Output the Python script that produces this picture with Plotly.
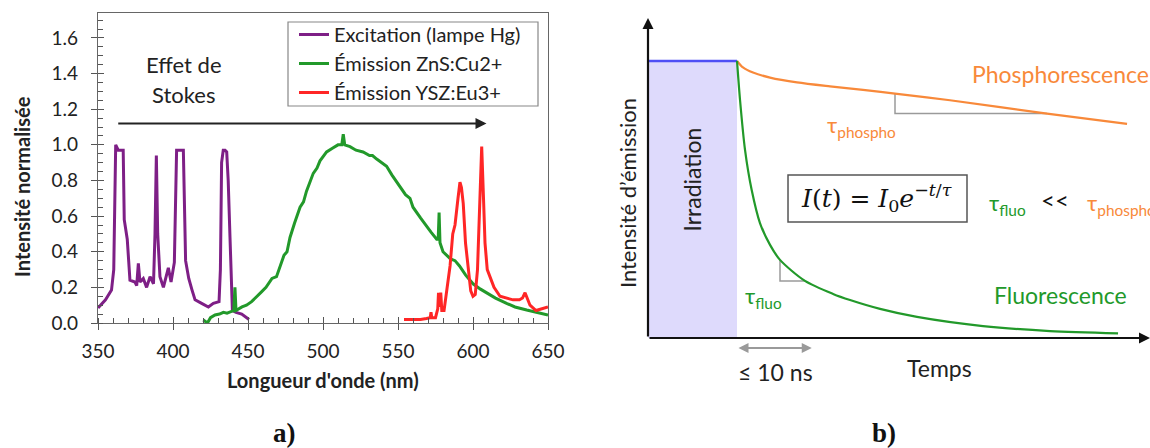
import plotly.graph_objects as go

# ---------------- Panel a) data ----------------
exc_wl = [350, 355, 359, 360.5, 361.8, 362.6, 363.5, 366.8, 367.5, 369.5, 371.3, 374.6, 375.8, 376.9, 378,
          380.2, 382.4, 384.7, 387, 388, 388.9, 389.8, 391.3, 393.6, 396.9, 398.7, 400.9, 402.4, 406.9,
          408.4, 410.5, 412.7, 414.7, 419.1, 423.6, 426.9, 430.7, 431.6, 432.4, 433.5, 434.7, 435.8, 436.8,
          438, 439.6, 442, 445.8, 450.7]
exc_int = [0.085, 0.13, 0.185, 0.3, 1.0, 0.98, 0.97, 0.97, 0.58, 0.47, 0.24, 0.23, 0.21, 0.335, 0.23,
           0.25, 0.2, 0.26, 0.22, 0.5, 0.94, 0.5, 0.26, 0.2, 0.31, 0.23, 0.34, 0.97, 0.97,
           0.35, 0.25, 0.185, 0.13, 0.11, 0.09, 0.11, 0.12, 0.3, 0.9, 0.97, 0.97, 0.96, 0.8,
           0.48, 0.07, 0.06, 0.05, 0.02]

zns_wl = [420.2, 423, 425, 428, 431, 433.6, 436, 439, 440.5, 441.3, 442, 446, 449, 452.4, 455, 459, 462,
          466, 469, 471, 474, 476, 478, 481, 484.7, 487, 489, 493.5, 496, 498, 502.4, 506, 510, 512.5, 513.5,
          514.5, 518, 522, 526.7, 531, 533, 535.8, 539, 542.4, 546, 551, 555, 558, 560, 565, 569, 572, 575.8,
          576.8, 577.4, 578, 580, 585, 588, 591, 595, 600, 605, 609, 615, 622.4, 628, 635.8, 642, 650]
zns_int = [0.017, 0.0, 0.03, 0.045, 0.05, 0.06, 0.055, 0.065, 0.07, 0.2, 0.07, 0.09, 0.1, 0.12, 0.14,
           0.175, 0.2, 0.25, 0.26, 0.31, 0.38, 0.4, 0.48, 0.56, 0.65, 0.68, 0.74, 0.84, 0.87, 0.91, 0.96,
           0.98, 1.0, 1.0, 1.06, 1.0, 0.99, 0.97, 0.96, 0.94, 0.94, 0.92, 0.9, 0.88, 0.83, 0.77, 0.72, 0.7,
           0.65, 0.59, 0.54, 0.51, 0.47, 0.47, 0.62, 0.45, 0.40, 0.36, 0.35, 0.32, 0.27, 0.22, 0.19, 0.17,
           0.14, 0.11, 0.09, 0.073, 0.06, 0.045]

ysz_wl = [554, 560, 565, 569, 571.5, 572, 572.5, 575, 576.5, 577, 577.8, 578.5, 579.2, 580.7, 582.5, 584.7,
          586.5, 588, 590, 591.3, 592.3, 593.5, 595, 596.7, 598.5, 600, 601.5, 603, 604.5, 605.8, 607, 608,
          609.5, 611, 614, 618, 622, 626.7, 631, 633, 634.7, 636, 638, 642, 646, 650]
ysz_int = [0.02, 0.02, 0.02, 0.025, 0.03, 0.06, 0.03, 0.03, 0.08, 0.17, 0.09, 0.17, 0.07, 0.07, 0.18, 0.32,
           0.5, 0.55, 0.7, 0.79, 0.76, 0.67, 0.45, 0.32, 0.18, 0.15, 0.16, 0.3, 0.7, 0.99, 0.7, 0.45,
           0.3, 0.27, 0.2, 0.15, 0.14, 0.13, 0.13, 0.14, 0.17, 0.14, 0.1, 0.07, 0.08, 0.09]

x_ticks = [350, 400, 450, 500, 550, 600, 650]
y_ticks = [0.0, 0.2, 0.4, 0.6, 0.8, 1.0, 1.2, 1.4, 1.6]
y_tick_labels = ["0.0", "0.2", "0.4", "0.6", "0.8", "1.0", "1.2", "1.4", "1.6"]

# ---------------- Panel b) schematic data ----------------
irr_t = [0, 1]
irr_i = [1, 1]
phos_t = [1.0, 1.067, 1.180, 1.371, 1.674, 2.045, 2.416, 2.775, 3.393, 4.483, 5.382]
phos_i = [1.0, 0.9765, 0.958, 0.940, 0.9224, 0.908, 0.8953, 0.882, 0.858, 0.8101, 0.7726]
fluo_t = [1.0, 1.034, 1.090, 1.165, 1.258, 1.371, 1.483, 1.764, 2.079, 2.270, 2.607, 3.022, 3.764, 4.517, 5.281]
fluo_i = [1.0, 0.859, 0.679, 0.534, 0.415, 0.336, 0.282, 0.206, 0.159, 0.137, 0.105, 0.076, 0.043, 0.025, 0.017]
tri_phos_t = [2.775, 2.775, 4.483]
tri_phos_i = [0.882, 0.81, 0.81]
tri_fluo_t = [1.483, 1.483, 1.764]
tri_fluo_i = [0.282, 0.206, 0.206]

PURPLE = "#7E1F86"
GREEN = "#22992A"
RED = "#FF2626"
ORANGE = "#F8893A"
SANS = "Lato"
SERIF = "DejaVu Serif"

fig = go.Figure()
fig.add_trace(go.Scatter(x=exc_wl, y=exc_int, mode="lines", name="Excitation (lampe Hg)",
                         line=dict(color=PURPLE, width=3)))
fig.add_trace(go.Scatter(x=zns_wl, y=zns_int, mode="lines", name="Émission ZnS:Cu2+",
                         line=dict(color=GREEN, width=3)))
fig.add_trace(go.Scatter(x=ysz_wl, y=ysz_int, mode="lines", name="Émission YSZ:Eu3+",
                         line=dict(color=RED, width=3)))
# dummy trace to show inside-tick overlay axes
fig.add_trace(go.Scatter(x=[None], y=[None], xaxis="x3", yaxis="y3", showlegend=False, hoverinfo="skip"))

# panel b traces
fig.add_trace(go.Scatter(x=irr_t, y=irr_i, xaxis="x2", yaxis="y2", mode="lines", fill="tozeroy",
                         fillcolor="#DEDAFC", line=dict(color="#4F4FF5", width=2.5), showlegend=False))
fig.add_trace(go.Scatter(x=tri_phos_t, y=tri_phos_i, xaxis="x2", yaxis="y2", mode="lines",
                         line=dict(color="#9A9A9A", width=1.5), showlegend=False))
fig.add_trace(go.Scatter(x=tri_fluo_t, y=tri_fluo_i, xaxis="x2", yaxis="y2", mode="lines",
                         line=dict(color="#9A9A9A", width=1.5), showlegend=False))
fig.add_trace(go.Scatter(x=phos_t, y=phos_i, xaxis="x2", yaxis="y2", mode="lines",
                         line=dict(color=ORANGE, width=2.2, shape="spline", smoothing=0.8), showlegend=False))
fig.add_trace(go.Scatter(x=fluo_t, y=fluo_i, xaxis="x2", yaxis="y2", mode="lines",
                         line=dict(color=GREEN, width=2.2, shape="spline", smoothing=0.8), showlegend=False))

dom_ax = [98 / 1150, 548 / 1150]
dom_ay = [1 - 323 / 448, 1 - 13 / 448]

tickfont = dict(family=SANS, size=19, color="#222")
common_ax = dict(automargin=False, showgrid=False, zeroline=False)
fig.update_layout(
    width=1150, height=448, margin=dict(l=0, r=0, t=0, b=0, autoexpand=False),
    paper_bgcolor="white", plot_bgcolor="white",
    font=dict(family=SANS, color="#222"),
    xaxis=dict(domain=dom_ax, range=[350, 650], tickvals=x_ticks, ticks="outside", ticklen=6,
               tickcolor="#555", tickwidth=1.3, showline=True, linecolor="#666", linewidth=1.3,
               mirror=True, tickfont=tickfont, ticklabelstandoff=5,
               minor=dict(dtick=10, ticks="inside", ticklen=5, tickcolor="#555", tickwidth=1.2),
               anchor="y", **common_ax),
    yaxis=dict(domain=dom_ay, range=[0, 1.74], tickvals=y_ticks, ticktext=y_tick_labels, ticks="outside",
               ticklen=6, tickcolor="#555", tickwidth=1.3, showline=True, linecolor="#666", linewidth=1.3,
               mirror=True, tickfont=tickfont, ticklabelstandoff=9,
               minor=dict(dtick=0.05, ticks="inside", ticklen=5, tickcolor="#555", tickwidth=1.2),
               anchor="x", **common_ax),
    xaxis3=dict(overlaying="x", range=[350, 650], tickvals=x_ticks, ticks="inside", ticklen=6,
                tickcolor="#555", tickwidth=1.3, showticklabels=False, showline=False, anchor="y3",
                **common_ax),
    yaxis3=dict(overlaying="y", range=[0, 1.74], tickvals=y_ticks, ticks="inside", ticklen=6,
                tickcolor="#555", tickwidth=1.3, showticklabels=False, showline=False, anchor="x3",
                **common_ax),
    xaxis2=dict(domain=[600 / 1150, 1.0], range=[-0.5393, 5.64], visible=False, anchor="y2", **common_ax),
    yaxis2=dict(domain=[1 - 400 / 448, 1 - 18 / 448], range=[-0.2238, 1.155], visible=False, anchor="x2",
                **common_ax),
    legend=dict(x=294 / 1150, y=1 - 15 / 448, xanchor="left", yanchor="top", bgcolor="rgba(0,0,0,0)",
                borderwidth=0, font=dict(family=SANS, size=20, color="#222"),
                itemwidth=30, tracegroupgap=0),
)

ann = []
# panel a texts
ann.append(dict(text="<b>Intensité normalisée</b>", xref="paper", yref="paper", x=22 / 1150, y=1 - 187 / 448,
                xanchor="center", yanchor="middle",
                textangle=-90, showarrow=False, font=dict(family=SANS, size=20, color="#222")))
ann.append(dict(text="<b>Longueur d'onde (nm)</b>", xref="paper", yref="paper", x=323 / 1150, y=1 - 380 / 448,
                xanchor="center", yanchor="middle",
                showarrow=False, font=dict(family=SANS, size=20, color="#222")))
ann.append(dict(text="Effet de", xref="x", yref="y", x=407, y=1.45, showarrow=False,
                font=dict(family=SANS, size=22, color="#222")))
ann.append(dict(text="Stokes", xref="x", yref="y", x=407, y=1.28, showarrow=False,
                font=dict(family=SANS, size=22, color="#222")))
ann.append(dict(text="", xref="x", yref="y", axref="x", ayref="y", x=609, y=1.12, ax=362.5, ay=1.12,
                showarrow=True, arrowhead=2, arrowsize=1.1, arrowwidth=2, arrowcolor="#222"))
ann.append(dict(text="<b>a)</b>", xref="paper", yref="paper", x=284 / 1150, y=1 - 433 / 448,
                xanchor="center", yanchor="middle", showarrow=False,
                font=dict(family="Liberation Serif", size=27, color="#111")))
ann.append(dict(text="<b>b)</b>", xref="paper", yref="paper", x=884 / 1150, y=1 - 433 / 448,
                xanchor="center", yanchor="middle", showarrow=False,
                font=dict(family="Liberation Serif", size=27, color="#111")))

# panel b texts and arrows
b = dict(xref="x2", yref="y2")
ann.append(dict(**b, text="", axref="x2", ayref="y2", x=5.64, y=0, ax=0, ay=0, showarrow=True,
                arrowhead=2, arrowsize=1, arrowwidth=2.2, arrowcolor="#111"))
ann.append(dict(**b, text="", axref="x2", ayref="y2", x=0, y=1.155, ax=0, ay=0, showarrow=True,
                arrowhead=2, arrowsize=1, arrowwidth=2.2, arrowcolor="#111"))
ann.append(dict(**b, text="", axref="x2", ayref="y2", x=1.84, y=-0.036, ax=1.0, ay=-0.036, showarrow=True,
                arrowhead=2, arrowside="end+start", arrowsize=1, arrowwidth=2, arrowcolor="#9A9A9A"))
ann.append(dict(**b, text="≤ 10 ns", x=1.43, y=-0.123, showarrow=False,
                font=dict(family=SANS, size=23, color="#222")))
ann.append(dict(**b, text="Temps", x=3.28, y=-0.108, showarrow=False,
                font=dict(family=SANS, size=23, color="#222")))
ann.append(dict(**b, text="Intensité d’émission", x=-0.236, y=0.523, textangle=-90, showarrow=False,
                font=dict(family=SANS, size=22, color="#222")))
ann.append(dict(**b, text="Irradiation", x=0.5, y=0.57, textangle=-90, showarrow=False,
                font=dict(family=SANS, size=23, color="#222")))
ann.append(dict(**b, text="Phosphorescence", x=4.63, y=0.953, showarrow=False,
                font=dict(family=SANS, size=23, color=ORANGE)))
ann.append(dict(**b, text="Fluorescence", x=4.64, y=0.155, showarrow=False,
                font=dict(family=SANS, size=23, color=GREEN)))
ann.append(dict(**b, text="τ<sub>phospho</sub>", x=2.40, y=0.765, showarrow=False,
                font=dict(family=SANS, size=22, color=ORANGE)))
ann.append(dict(**b, text="τ<sub>fluo</sub>", x=1.30, y=0.148, showarrow=False,
                font=dict(family=SANS, size=22, color=GREEN)))
ann.append(dict(**b, text="τ<sub>fluo</sub>", x=4.04, y=0.485, showarrow=False,
                font=dict(family=SANS, size=22, color=GREEN)))
ann.append(dict(**b, text="<<", x=4.57, y=0.50, showarrow=False,
                font=dict(family=SANS, size=24, color="#111")))
ann.append(dict(**b, text="τ<sub>phospho</sub>", x=4.91, y=0.485, xanchor="left", showarrow=False,
                font=dict(family=SANS, size=22, color=ORANGE)))
ann.append(dict(**b, text="<i>I</i>(<i>t</i>) = <i>I</i><sub>0</sub><i>e</i><sup>−<i>t</i>/<i>τ</i></sup>",
                x=2.57, y=0.505, showarrow=False, font=dict(family=SERIF, size=25, color="#111")))

fig.update_layout(annotations=ann)
fig.add_shape(type="rect", xref="x2", yref="y2", x0=1.573, x1=3.584, y0=0.419, y1=0.588,
              line=dict(color="#555", width=1.5), fillcolor="rgba(0,0,0,0)")
# legend frame
fig.add_shape(type="rect", xref="paper", yref="paper", x0=288 / 1150, x1=538 / 1150,
              y0=1 - 106 / 448, y1=1 - 22 / 448, line=dict(color="#888", width=1.2),
              fillcolor="rgba(0,0,0,0)")

fig.write_html("out.html", config={"displayModeBar": False},
               post_script="document.body.style.margin='0px';")
